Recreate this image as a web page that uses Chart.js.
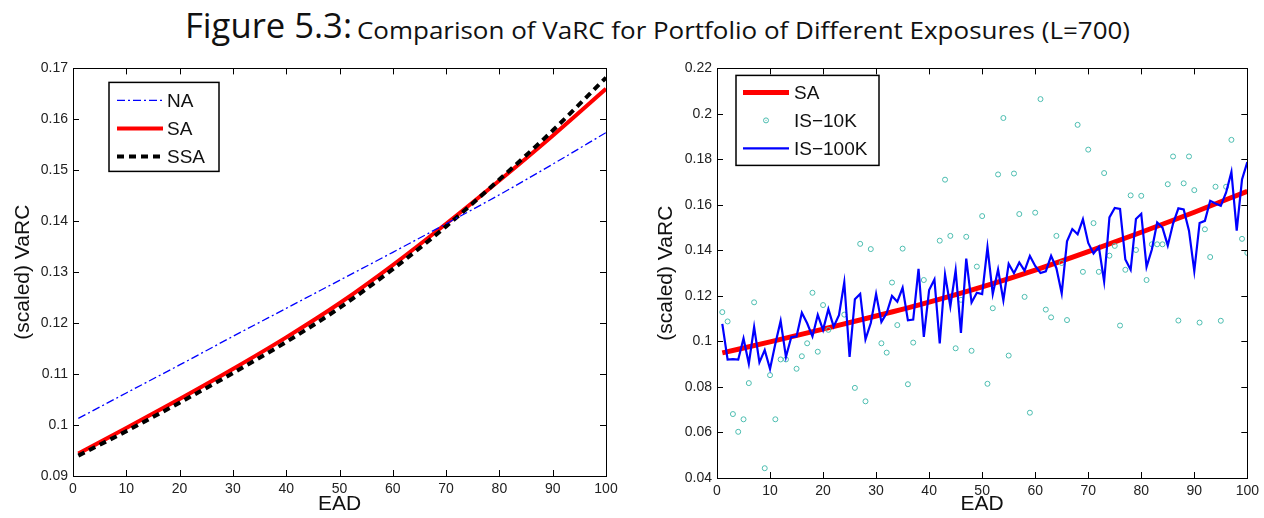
<!DOCTYPE html>
<html>
<head>
<meta charset="utf-8">
<script src="https://cdn.jsdelivr.net/npm/chart.js@4.4.1/dist/chart.umd.min.js"></script>
<style>
  html, body { margin: 0; padding: 0; background: #fff; }
  body { width: 1264px; height: 518px; position: relative; overflow: hidden; }
  .ttl { position: absolute; white-space: nowrap; font-family: 'Open Sans', sans-serif; color: #111; line-height: 1; transform-origin: 0 0; }
  #tBig { left: 185px; top: 7px; font-size: 35px; }
  #tSmall { left: 357px; top: 19px; font-size: 23px; }
  canvas { position: absolute; }
  #leftChart { left: 0; top: 55px; }
  #rightChart { left: 632px; top: 55px; }
</style>
</head>
<body>
<div id="tBig" class="ttl">Figure 5.3:</div>
<div id="tSmall" class="ttl">Comparison of VaRC for Portfolio of Different Exposures (L=700)</div>
<canvas id="leftChart" width="632" height="463"></canvas>
<canvas id="rightChart" width="632" height="463"></canvas>
<script>
// ---------- Data ----------
const leftEAD = [1, 10, 20, 30, 40, 50, 60, 70, 80, 90, 100];
const naVaRC  = [0.1013, 0.1063, 0.1118, 0.1174, 0.1229, 0.1284, 0.1339, 0.1395, 0.1452, 0.1512, 0.1574];
const saVaRC  = [0.0944, 0.0994, 0.1051, 0.1110, 0.1172, 0.1239, 0.1314, 0.1395, 0.1480, 0.1568, 0.1660];
const ssaVaRC = [0.0940, 0.0988, 0.1044, 0.1102, 0.1163, 0.1230, 0.1306, 0.1390, 0.1482, 0.1578, 0.1682];

const rightEAD = [1,2,3,4,5,6,7,8,9,10,11,12,13,14,15,16,17,18,19,20,21,22,23,24,25,26,27,28,29,30,
  31,32,33,34,35,36,37,38,39,40,41,42,43,44,45,46,47,48,49,50,51,52,53,54,55,56,57,58,59,60,
  61,62,63,64,65,66,67,68,69,70,71,72,73,74,75,76,77,78,79,80,81,82,83,84,85,86,87,88,89,90,
  91,92,93,94,95,96,97,98,99,100];
const is100kVaRC = [
  0.1077, 0.0920, 0.0922, 0.0920, 0.1013, 0.0902, 0.1063, 0.0908, 0.0962, 0.0879,
  0.0990, 0.1090, 0.0932, 0.1019, 0.1022, 0.1126, 0.1080, 0.1022, 0.1117, 0.1051,
  0.1142, 0.1065, 0.1115, 0.1260, 0.0932, 0.1186, 0.1209, 0.1009, 0.1081, 0.1209,
  0.1086, 0.1125, 0.1200, 0.1175, 0.1236, 0.1093, 0.1096, 0.1319, 0.1020, 0.1226,
  0.1272, 0.0991, 0.1294, 0.1154, 0.1313, 0.1038, 0.1364, 0.1171, 0.1214, 0.1208,
  0.1414, 0.1209, 0.1316, 0.1181, 0.1341, 0.1300, 0.1347, 0.1311, 0.1376, 0.1332,
  0.1301, 0.1308, 0.1376, 0.1322, 0.1211, 0.1440, 0.1494, 0.1471, 0.1537, 0.1433,
  0.1387, 0.1416, 0.1264, 0.1545, 0.1587, 0.1582, 0.1360, 0.1315, 0.1538, 0.1561,
  0.1328, 0.1404, 0.1523, 0.1500, 0.1422, 0.1518, 0.1585, 0.1580, 0.1487, 0.1309,
  0.1521, 0.1530, 0.1618, 0.1606, 0.1596, 0.1655, 0.1745, 0.1487, 0.1712, 0.1788];
const is10kVaRC = [
  0.1129, 0.1088, 0.0681, 0.0603, 0.0658, 0.0817, 0.1172, null,   0.0443, 0.0852,
  0.0658, 0.0921, 0.0921, null,   0.0880, 0.0935, 0.0992, 0.1214, 0.0955, 0.1160,
  0.1051, null,   null,   0.1118, null,   0.0796, 0.1429, 0.0737, 0.1406, null,
  0.0992, 0.0951, 0.1259, 0.1072, 0.1408, 0.0812, 0.0995, null,   0.1270, null,
  null,   0.1443, 0.1711, 0.1464, 0.0970, 0.1183, 0.1460, 0.0959, 0.1329, 0.1551,
  0.0814, 0.1146, 0.1734, 0.1982, 0.0938, 0.1738, 0.1560, 0.1196, 0.0687, 0.1566,
  0.2065, 0.1140, 0.1106, 0.1464, 0.1345, 0.1094, null,   0.1952, 0.1306, 0.1843,
  0.1520, 0.1306, 0.1740, 0.1377, 0.1420, 0.1070, 0.1315, 0.1642, 0.1402, 0.1640,
  0.1270, 0.1427, 0.1427, 0.1427, 0.1691, 0.1813, 0.1092, 0.1695, 0.1813, 0.1665,
  0.1083, 0.1493, 0.1371, 0.1680, 0.1091, 0.1680, 0.1886, null,   0.1451, 0.1389];
const rightSAEAD = [1, 10, 20, 30, 40, 50, 60, 70, 80, 90, 100];
const rightSAVaRC = [0.0950, 0.0998, 0.1054, 0.1112, 0.1173, 0.1240, 0.1314, 0.1395, 0.1480, 0.1568, 0.1660];

const xTicks = [0, 10, 20, 30, 40, 50, 60, 70, 80, 90, 100];

// ---------- Helpers ----------
const pts = (xs, ys) => xs.map((x, i) => ({ x: x, y: ys[i] }));
const TICK_FONT = { family: "'Liberation Sans', Arial, sans-serif", size: 14 };
const TITLE_FONT = { family: "'Liberation Sans', Arial, sans-serif", size: 21 };

const boxTicksPlugin = {
  id: 'boxTicks',
  afterDraw(chart) {
    const ctx = chart.ctx, ca = chart.chartArea;
    const xs = chart.scales.x, ys = chart.scales.y;
    ctx.save();
    ctx.strokeStyle = '#000';
    ctx.lineWidth = 1;
    ctx.beginPath();
    const L = 6;
    xs.ticks.forEach(t => {
      const p = Math.round(xs.getPixelForValue(t.value)) + 0.5;
      ctx.moveTo(p, ca.bottom); ctx.lineTo(p, ca.bottom - L);
      ctx.moveTo(p, ca.top); ctx.lineTo(p, ca.top + L);
    });
    ys.ticks.forEach(t => {
      const p = Math.round(ys.getPixelForValue(t.value)) + 0.5;
      ctx.moveTo(ca.left, p); ctx.lineTo(ca.left + L, p);
      ctx.moveTo(ca.right, p); ctx.lineTo(ca.right - L, p);
    });
    ctx.stroke();
    ctx.strokeRect(Math.round(ca.left) + 0.5, Math.round(ca.top) + 0.5,
                   Math.round(ca.right - ca.left), Math.round(ca.bottom - ca.top));
    ctx.restore();
  }
};

const boxLegendPlugin = {
  id: 'boxLegend',
  afterDraw(chart, args, opts) {
    const ctx = chart.ctx, ca = chart.chartArea;
    const x0 = ca.left + opts.dx, y0 = ca.top + opts.dy;
    ctx.save();
    ctx.fillStyle = '#fff';
    ctx.fillRect(x0, y0, opts.w, opts.h);
    ctx.strokeStyle = '#000';
    ctx.lineWidth = 1.5;
    ctx.strokeRect(x0, y0, opts.w, opts.h);
    ctx.font = opts.fontSize + "px 'Liberation Sans', Arial, sans-serif";
    ctx.textBaseline = 'middle';
    chart.data.datasets.forEach((ds, i) => {
      const y = y0 + opts.firstY + i * opts.rowH;
      const lx0 = x0 + opts.lineX0, lx1 = x0 + opts.lineX1;
      if (ds.showLine === false) {
        ctx.beginPath();
        ctx.strokeStyle = ds.borderColor;
        ctx.lineWidth = 1;
        ctx.arc((lx0 + lx1) / 2, y, ds.pointRadius, 0, Math.PI * 2);
        ctx.stroke();
        ctx.fillStyle = ds.borderColor;
        ctx.fillRect((lx0 + lx1) / 2 - 0.5, y - 0.5, 1, 1);
      } else {
        ctx.beginPath();
        ctx.strokeStyle = ds.borderColor;
        ctx.lineWidth = ds.borderWidth;
        ctx.setLineDash(ds.borderDash || []);
        ctx.moveTo(lx0, y); ctx.lineTo(lx1, y);
        ctx.stroke();
        ctx.setLineDash([]);
      }
      ctx.fillStyle = '#111';
      ctx.fillText(ds.label, x0 + opts.textX, y + 1);
    });
    ctx.restore();
  }
};

function axes(yMin, yMax, yStep, yWidth, xHeight, yTitlePad) {
  return {
    x: {
      type: 'linear', min: 0, max: 100,
      afterBuildTicks: s => { s.ticks = xTicks.map(v => ({ value: v })); },
      grid: { display: false, drawTicks: false },
      border: { display: false },
      ticks: { font: TICK_FONT, color: '#222', padding: 5, maxRotation: 0, autoSkip: false },
      title: { display: true, text: 'EAD', font: TITLE_FONT, color: '#111', padding: { top: 0, bottom: 1 } },
      afterFit: s => { s.height = xHeight; }
    },
    y: {
      type: 'linear', min: yMin, max: yMax,
      grid: { display: false, drawTicks: false },
      border: { display: false },
      ticks: { font: TICK_FONT, color: '#222', padding: 5, stepSize: yStep, autoSkip: false,
               callback: v => String(+v.toFixed(3)) },
      title: { display: true, text: '(scaled) VaRC', font: TITLE_FONT, color: '#111', padding: { top: yTitlePad, bottom: 0 } },
      afterFit: s => { s.width = yWidth; }
    }
  };
}

const common = {
  responsive: false,
  animation: false,
  devicePixelRatio: 1,
  events: [],
  plugins: { legend: { display: false }, tooltip: { enabled: false } },
  elements: { point: { radius: 0 } }
};

new Chart(document.getElementById('leftChart'), {
  type: 'line',
  data: {
    datasets: [
      { label: 'NA', data: pts(leftEAD, naVaRC), borderColor: '#0000ff', borderWidth: 1.3,
        borderDash: [8, 3, 2, 3], pointRadius: 0, cubicInterpolationMode: 'monotone', order: 1 },
      { label: 'SA', data: pts(leftEAD, saVaRC), borderColor: '#ff0000', borderWidth: 4,
        pointRadius: 0, cubicInterpolationMode: 'monotone', order: 3 },
      { label: 'SSA', data: pts(leftEAD, ssaVaRC), borderColor: '#000000', borderWidth: 4,
        borderDash: [7, 5], pointRadius: 0, cubicInterpolationMode: 'monotone', order: 2 }
    ]
  },
  options: Object.assign({}, common, {
    layout: { padding: { top: 10, right: 26, bottom: 0, left: 0 } },
    scales: axes(0.09, 0.17, 0.01, 73, 42, 11),
    plugins: Object.assign({}, common.plugins, {
      boxLegend: { dx: 36, dy: 14, w: 110, h: 89, firstY: 18, rowH: 28, lineX0: 8, lineX1: 54, textX: 58, fontSize: 19 }
    })
  }),
  plugins: [boxTicksPlugin, boxLegendPlugin]
});

new Chart(document.getElementById('rightChart'), {
  type: 'line',
  data: {
    datasets: [
      { label: 'SA', data: pts(rightSAEAD, rightSAVaRC), borderColor: '#ff0000', borderWidth: 5,
        pointRadius: 0, cubicInterpolationMode: 'monotone', order: 3 },
      { label: 'IS\u221210K', data: pts(rightEAD, is10kVaRC), showLine: false, borderColor: '#4cbdb0',
        backgroundColor: 'rgba(0,0,0,0)', pointRadius: 2.5, pointBorderWidth: 1, pointStyle: 'circle', order: 2 },
      { label: 'IS\u2212100K', data: pts(rightEAD, is100kVaRC), borderColor: '#0000ff', borderWidth: 2.2,
        pointRadius: 0, tension: 0, order: 1 }
    ]
  },
  options: Object.assign({}, common, {
    layout: { padding: { top: 10, right: 14, bottom: 0, left: 0 } },
    scales: axes(0.04, 0.22, 0.02, 85, 40, 22),
    plugins: Object.assign({}, common.plugins, {
      boxLegend: { dx: 19, dy: 7, w: 143, h: 90, firstY: 17, rowH: 28, lineX0: 7, lineX1: 53, textX: 58, fontSize: 19 }
    })
  }),
  plugins: [boxTicksPlugin, boxLegendPlugin]
});

// fit title pieces to reference spans
(function () {
  const fit = (id, target) => {
    const el = document.getElementById(id);
    const w = el.getBoundingClientRect().width;
    el.style.transform = 'scaleX(' + (target / w) + ')';
  };
  fit('tBig', 167);
  fit('tSmall', 773);
})();
</script>
</body>
</html>
